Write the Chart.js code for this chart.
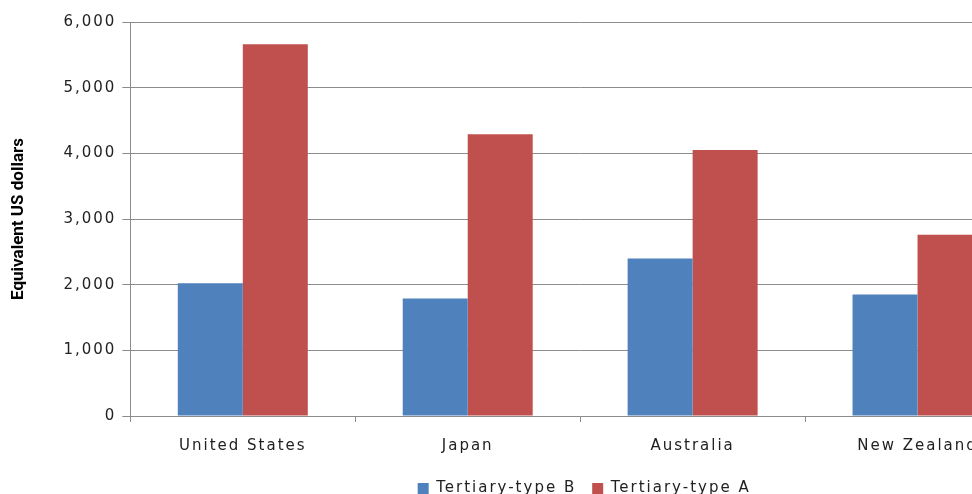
<!DOCTYPE html>
<html>
<head>
<meta charset="utf-8">
<script src="https://cdn.jsdelivr.net/npm/chart.js@4"></script>
<style>
html,body{margin:0;padding:0;background:#fff;overflow:hidden;}
#wrap{width:972px;height:494px;overflow:hidden;position:relative;}
canvas{display:block;}
</style>
</head>
<body>
<div id="wrap"><canvas id="c" width="1168" height="494"></canvas></div>
<script>
const categories = ["United States", "Japan", "Australia", "New Zealand"];
const typeB = [2020, 1790, 2400, 1850];
const typeA = [5660, 4290, 4050, 2760];
const seriesNames = ["Tertiary-type B", "Tertiary-type A"];
const yTitle = "Equivalent US dollars";

const SPACING = '2px';
const spacingPlugin = {
  id: 'spacing',
  beforeUpdate(chart){ chart.ctx.letterSpacing = SPACING; },
  beforeDraw(chart){ chart.ctx.letterSpacing = SPACING; },
  afterLayout(chart){
    // centre the legend under the plot area
    const lg = chart.legend, ca = chart.chartArea;
    if (!lg) return;
    const shift = (ca.left + ca.right) / 2 + 4 - (lg.left + lg.right) / 2;
    lg.left += shift; lg.right += shift;
  }
};
// draw axis title without the extra letter spacing
const LinearScale = Chart.registry.getScale('linear');
const origDrawTitle = LinearScale.prototype.drawTitle;
LinearScale.prototype.drawTitle = function(){
  const c = this.ctx; const s = c.letterSpacing;
  c.letterSpacing = '0px';
  origDrawTitle.apply(this, arguments);
  c.letterSpacing = s;
};

const gridColor = '#8c8c8c';
new Chart(document.getElementById('c'), {
  type: 'bar',
  data: {
    labels: categories,
    datasets: [
      {label: seriesNames[0], data: typeB, backgroundColor: '#4F81BD', categoryPercentage: 0.578, barPercentage: 1.0},
      {label: seriesNames[1], data: typeA, backgroundColor: '#C0504D', categoryPercentage: 0.578, barPercentage: 1.0}
    ]
  },
  options: {
    responsive: false,
    animation: false,
    layout: {padding: {left: 9, right: 138, top: 22, bottom: -12}},
    plugins: {
      tooltip: {enabled: false},
      legend: {
        position: 'bottom',
        labels: {
          boxWidth: 11, boxHeight: 11, padding: 16,
          color: '#222',
          font: {family: 'DejaVu Sans', size: 15}
        }
      }
    },
    scales: {
      x: {
        offset: true,
        grid: {display: true, offset: true, drawOnChartArea: false, drawTicks: true, tickLength: 6, color: gridColor},
        border: {display: true, color: gridColor},
        ticks: {color: '#222', font: {family: 'DejaVu Sans', size: 15}, padding: 15, maxRotation: 0},
        afterFit(scale){ scale.height -= 5; }
      },
      y: {
        min: 0, max: 6000,
        ticks: {stepSize: 1000, color: '#222', font: {family: 'DejaVu Sans', size: 15}, padding: 6,
          callback: v => v.toLocaleString('en-US')},
        grid: {color: gridColor, tickLength: 8, drawTicks: true},
        border: {display: true, color: gridColor},
        title: {display: true, text: yTitle, color: '#000', font: {family: 'Roboto', size: 17, weight: 'bold'}, padding: {top: 0, bottom: 28}}
      }
    }
  },
  plugins: [spacingPlugin]
});
</script>
</body>
</html>
